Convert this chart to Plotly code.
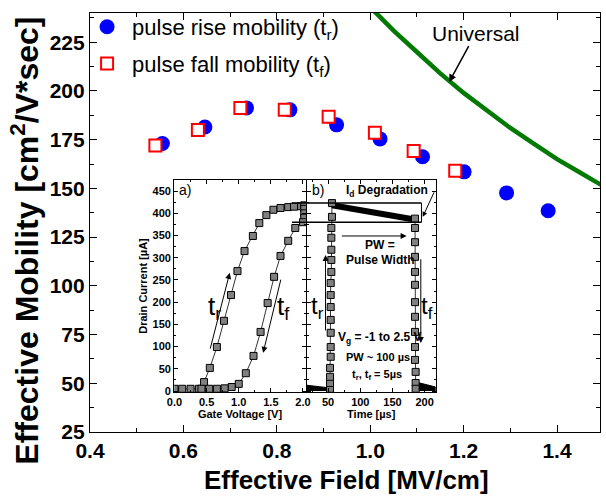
import plotly.graph_objects as go

# ---------------- main data ----------------
rise_field = [0.555, 0.646, 0.735, 0.828, 0.928, 1.021, 1.112, 1.201, 1.292, 1.381]
rise_mob = [173, 181.5, 191.3, 190.3, 182.6, 175.4, 166.2, 158.5, 147.7, 138.5]
fall_field = [0.54, 0.631, 0.722, 0.817, 0.911, 1.010, 1.093, 1.182]
fall_mob = [172, 180, 191.3, 190.3, 186.7, 178.5, 169.2, 159]
univ_field = [1.00, 1.05, 1.10, 1.15, 1.20, 1.25, 1.30, 1.35, 1.40, 1.45, 1.50]
univ_mob = [243, 231, 220, 209, 199, 190, 181, 173, 165, 158, 151]

# ---------------- inset a: Id vs Vg ----------------
va_rise = [0.0, 0.12, 0.25, 0.38, 0.46, 0.55, 0.66, 0.77, 0.88, 0.98, 1.09, 1.22, 1.32,
           1.43, 1.54, 1.65, 1.77, 1.86, 1.97]
ida_rise = [5, 5, 5, 5, 20, 52, 99, 158, 216, 270, 315, 349, 378, 396, 408, 412, 414, 415, 416]
va_fall = [2.02, 2.02, 2.02, 2.02, 2.0, 1.88, 1.77, 1.65, 1.55, 1.45, 1.34, 1.23, 1.11,
           1.0, 0.89, 0.78, 0.66, 0.54, 0.42]
ida_fall = [418, 410, 400, 390, 380, 367, 338, 304, 257, 198, 133, 79, 40, 16, 9, 6, 5, 5, 5]

# ---------------- inset b: Id vs time ----------------
tb_rise = [53, 53, 53, 53, 54, 54, 54, 54, 54, 54, 54, 55, 55, 55, 55, 55, 56, 56]
idb_rise = [5, 18, 32, 52, 77, 99, 131, 160, 189, 216, 243, 268, 295, 318, 345, 367, 392, 423]
tb_fall = [185, 185, 185, 185, 185, 185, 185, 185, 185, 185, 185, 186, 186, 186]
idb_fall = [388, 367, 335, 302, 268, 239, 200, 167, 133, 99, 70, 43, 18, 5]
tb_band = [56, 184]
idb_band = [418, 386]
tb_base_l = [17, 17, 52, 52]
idb_base_l = [0, 13, 7, 0]
tb_base_r = [187, 187, 217, 217]
idb_base_r = [0, 20, 9, 0]
box_top, box_bot = 423, 380

FONT = "Liberation Sans"
fig = go.Figure()

fig.add_trace(go.Scatter(x=univ_field, y=univ_mob, mode="lines",
                         line=dict(color="#007a00", width=4.5), showlegend=False))
fig.add_trace(go.Scatter(x=rise_field, y=rise_mob, mode="markers",
                         name="pulse rise mobility (t<sub>r</sub>)", legendgroup="a",
                         marker=dict(symbol="circle", size=15, color="#0000ff", line=dict(width=0))))
fig.add_trace(go.Scatter(x=fall_field, y=fall_mob, mode="markers",
                         name="pulse fall mobility (t<sub>f</sub>)", legendgroup="b",
                         marker=dict(symbol="square", size=12, color="white",
                                     line=dict(color="#ff0000", width=2))))

sq = dict(symbol="square", size=7, color="#808080", line=dict(color="black", width=1))
ln = dict(color="black", width=0.8)
fig.add_trace(go.Scatter(x=va_rise, y=ida_rise, mode="lines+markers", marker=sq, line=ln,
                         xaxis="x2", yaxis="y2", showlegend=False))
fig.add_trace(go.Scatter(x=va_fall, y=ida_fall, mode="lines+markers", marker=sq, line=ln,
                         xaxis="x2", yaxis="y2", showlegend=False))
fig.add_trace(go.Scatter(x=tb_base_l, y=idb_base_l, mode="lines", fill="toself", fillcolor="black",
                         line=dict(color="black", width=1), xaxis="x3", yaxis="y3", showlegend=False))
fig.add_trace(go.Scatter(x=tb_base_r, y=idb_base_r, mode="lines", fill="toself", fillcolor="black",
                         line=dict(color="black", width=1), xaxis="x3", yaxis="y3", showlegend=False))
fig.add_trace(go.Scatter(x=tb_band, y=idb_band, mode="lines", line=dict(color="black", width=6),
                         xaxis="x3", yaxis="y3", showlegend=False))
fig.add_trace(go.Scatter(x=tb_rise, y=idb_rise, mode="lines+markers", marker=sq, line=ln,
                         xaxis="x3", yaxis="y3", showlegend=False))
fig.add_trace(go.Scatter(x=tb_fall, y=idb_fall, mode="lines+markers", marker=sq, line=ln,
                         xaxis="x3", yaxis="y3", showlegend=False))

W, H = 606, 502
L, R, T, B = 90, 1, 13, 70
pw, ph = W - L - R, H - T - B
def px_x(p): return (p - L) / pw
def px_y(p): return (H - B - p) / ph

main_tick = dict(family=FONT, size=21, color="black", weight="bold")
fig.update_layout(
    width=W, height=H, margin=dict(l=L, r=R, t=T, b=B),
    paper_bgcolor="white", plot_bgcolor="white",
    font=dict(family=FONT, color="black"),
    showlegend=True,
    legend=dict(x=px_x(82), y=px_y(6), xanchor="left", yanchor="top", bgcolor="rgba(0,0,0,0)",
                font=dict(family=FONT, size=22, color="black"), tracegroupgap=5,
                itemwidth=40, itemsizing="trace"),
    xaxis=dict(range=[0.4, 1.492], showline=True, linecolor="black", linewidth=1.2, mirror="ticks",
               ticks="inside", ticklen=7, tickwidth=1.2, tickcolor="black", dtick=0.2, tick0=0.4,
               tickformat=".1f", showgrid=False, zeroline=False, tickfont=main_tick,
               minor=dict(ticks="inside", ticklen=4, dtick=0.1, tickcolor="black", showgrid=False)),
    yaxis=dict(range=[25, 240], showline=True, linecolor="black", linewidth=1.2, mirror="ticks",
               ticks="inside", ticklen=7, tickwidth=1.2, tickcolor="black", dtick=25, tick0=25,
               showgrid=False, zeroline=False, tickfont=main_tick,
               minor=dict(ticks="inside", ticklen=4, dtick=12.5, tickcolor="black", showgrid=False)),
)

in_tick = dict(family=FONT, size=11, color="black", weight="bold")
in_title = dict(family=FONT, size=11, color="black", weight="bold")
ydom = [px_y(392), px_y(180)]
fig.update_layout(
    xaxis2=dict(domain=[px_x(175), px_x(308)], anchor="y2", range=[-0.005, 2.045], dtick=0.5,
                tickformat=".1f", showline=True, linecolor="black", linewidth=1, mirror="ticks",
                ticks="inside", ticklen=4, tickcolor="black", showgrid=False, zeroline=False,
                tickfont=in_tick, title=dict(text="Gate Voltage [V]", font=in_title, standoff=2),
                minor=dict(ticks="inside", ticklen=2, dtick=0.25, tickcolor="black")),
    yaxis2=dict(domain=ydom, anchor="x2", range=[-2.25, 475], dtick=50, showline=True,
                linecolor="black", linewidth=1, mirror="ticks", ticks="inside", ticklen=4,
                tickcolor="black", showgrid=False, zeroline=False, tickfont=in_tick,
                title=dict(text="Drain Current [µA]", font=in_title, standoff=2),
                minor=dict(ticks="inside", ticklen=2, dtick=25, tickcolor="black")),
    xaxis3=dict(domain=[px_x(309), px_x(439)], anchor="y3", range=[17, 217], dtick=50, tick0=0,
                showline=True, linecolor="black", linewidth=1, mirror="ticks", ticks="inside",
                ticklen=4, tickcolor="black", showgrid=False, zeroline=False, tickfont=in_tick,
                title=dict(text="Time [µs]", font=in_title, standoff=2),
                minor=dict(ticks="inside", ticklen=2, dtick=25, tickcolor="black")),
    yaxis3=dict(domain=ydom, anchor="x3", range=[-2.25, 475], dtick=50, showline=True,
                linecolor="black", linewidth=1, mirror="ticks", ticks="inside", ticklen=4,
                tickcolor="black", showgrid=False, zeroline=False, showticklabels=False,
                minor=dict(ticks="inside", ticklen=2, dtick=25, tickcolor="black")),
)

# degradation box lines
shapes = []
for yv in (box_top, box_bot):
    shapes.append(dict(type="line", xref="x2", yref="y2", x0=1.83, x1=2.045, y0=yv, y1=yv,
                       line=dict(color="black", width=1.5)))
    shapes.append(dict(type="line", xref="x3", yref="y3", x0=17, x1=195, y0=yv, y1=yv,
                       line=dict(color="black", width=1.5)))
shapes.append(dict(type="line", xref="x3", yref="y3", x0=195, x1=195, y0=box_bot, y1=box_top,
                   line=dict(color="black", width=1)))
fig.update_layout(shapes=shapes)

ann = []
# axis titles
ann.append(dict(text="<b>Effective Mobility [cm<sup>2</sup>/V*sec]</b>", xref="paper", yref="paper",
                x=px_x(24), y=px_y(241), textangle=-90, showarrow=False,
                xanchor="center", yanchor="middle",
                font=dict(family=FONT, size=32, color="black")))
ann.append(dict(text="<b>Effective Field [MV/cm]</b>", xref="paper", yref="paper",
                x=px_x(349), y=px_y(480), showarrow=False, xanchor="center", yanchor="middle",
                font=dict(family=FONT, size=26, color="black")))
# Universal
ann.append(dict(text="Universal", xref="x", yref="y", x=1.169, y=204.6, ax=1.226, ay=229.7,
                axref="x", ayref="y", showarrow=True, arrowhead=2, arrowsize=1, arrowwidth=1.5,
                arrowcolor="black", font=dict(family=FONT, size=21, color="black")))

def arrow(xr, yr, x0, y0, x1, y1, w=1):
    return dict(text="", xref=xr, yref=yr, x=x1, y=y1, ax=x0, ay=y0, axref=xr, ayref=yr,
                showarrow=True, arrowhead=2, arrowsize=1.2, arrowwidth=w, arrowcolor="black")

def txt(xr, yr, x, y, s, size=12, bold=True, xanchor="center"):
    t = f"<b>{s}</b>" if bold else s
    return dict(text=t, xref=xr, yref=yr, x=x, y=y, showarrow=False, xanchor=xanchor,
                yanchor="middle", font=dict(family=FONT, size=size, color="black"))

# inset a
ann.append(txt("x2", "y2", 0.16, 453, "a)", size=14, bold=False))
ann.append(arrow("x2", "y2", 0.55, 92, 0.86, 266))
ann.append(txt("x2", "y2", 0.62, 189, "t<sub>r</sub>", size=26, bold=False))
ann.append(arrow("x2", "y2", 1.66, 254, 1.38, 86))
ann.append(txt("x2", "y2", 1.70, 189, "t<sub>f</sub>", size=26, bold=False))
# inset b
ann.append(txt("x3", "y3", 35, 453, "b)", size=14, bold=False))
ann.append(txt("x3", "y3", 141, 450, "I<sub>d</sub> Degradation", size=12))
ann.append(dict(text="", xref="x3", yref="y3", x=197, y=392, ax=12, ay=-26, showarrow=True,
                arrowhead=2, arrowsize=1, arrowwidth=1, arrowcolor="black"))
ann.append(arrow("x3", "y3", 69, 349, 172, 349))
ann.append(txt("x3", "y3", 131, 329, "PW =", size=12))
ann.append(txt("x3", "y3", 131, 295, "Pulse Width", size=12))
ann.append(arrow("x3", "y3", 46, 133, 46, 306))
ann.append(txt("x3", "y3", 33, 189, "t<sub>r</sub>", size=24, bold=False))
ann.append(arrow("x3", "y3", 194, 300, 194, 108))
ann.append(txt("x3", "y3", 203, 189, "t<sub>f</sub>", size=24, bold=False))
ann.append(txt("x3", "y3", 131, 119, "V<sub>g</sub> = -1 to 2.5 V", size=12))
ann.append(txt("x3", "y3", 128, 77, "PW ~ 100 µs", size=11))
ann.append(txt("x3", "y3", 126, 36, "t<sub>r</sub>, t<sub>f</sub> = 5µs", size=11))

fig.update_layout(annotations=ann)
fig.write_html("out.html")
